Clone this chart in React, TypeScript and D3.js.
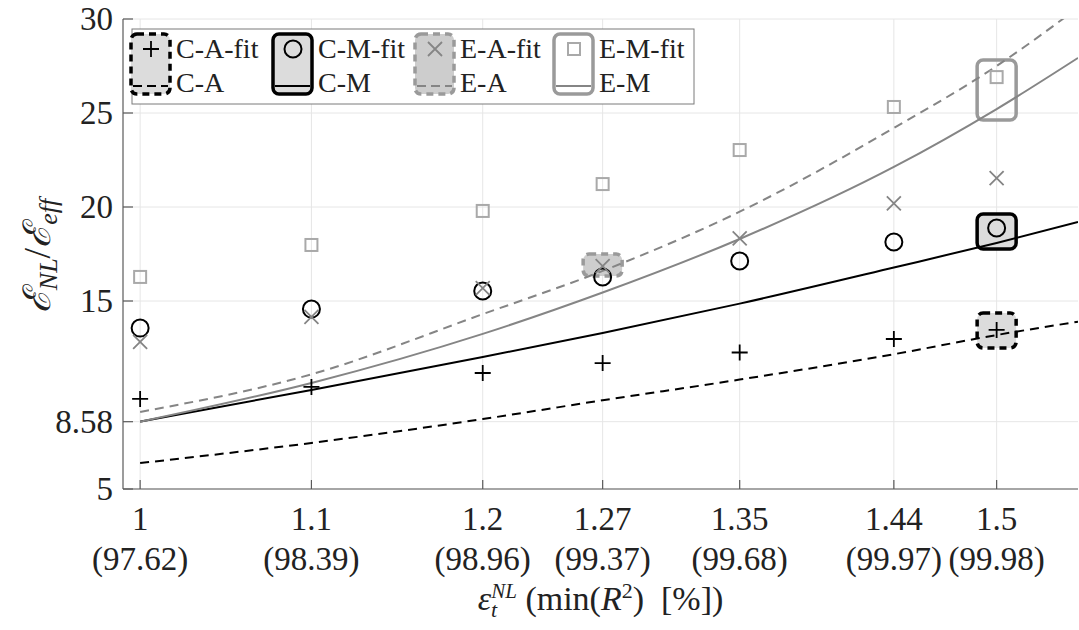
import React from "react";
import * as d3 from "d3";

// ---- data ----
const xCats = [1, 1.1, 1.2, 1.27, 1.35, 1.44, 1.5];
const r2Labels = ["97.62", "98.39", "98.96", "99.37", "99.68", "99.97", "99.98"];
const xTickText = ["1", "1.1", "1.2", "1.27", "1.35", "1.44", "1.5"];
const yTicks = [5, 8.58, 15, 20, 25, 30];
const yTickText = ["5", "8.58", "15", "20", "25", "30"];

const caFit = [9.79, 10.43, 11.17, 11.7, 12.26, 12.98, 13.46];
const cmFit = [13.56, 14.57, 15.53, 16.28, 17.13, 18.14, 18.88];
const eaFit = [12.82, 14.15, 15.69, 16.86, 18.33, 20.19, 21.54];
const emFit = [16.28, 17.98, 19.79, 21.22, 23.03, 25.32, 26.91];

const curveX = [1, 1.1, 1.2, 1.27, 1.35, 1.44, 1.5, 1.5475];
const caCurve = [6.38, 7.45, 8.72, 9.72, 10.82, 12.17, 13.19, 13.9];
const cmCurve = [8.58, 10.27, 12.02, 13.3, 14.86, 16.78, 18.09, 19.2];
const eaCurve = [9.1, 11.1, 14.3, 16.6, 19.75, 24.2, 27.5, 30.6];
const emCurve = [8.58, 10.64, 13.25, 15.45, 18.3, 22.13, 25.21, 27.93];

const boxSeries = ["C-A", "C-M", "E-A", "E-M"];
const boxX = [1.5, 1.5, 1.27, 1.5];
const boxLo = [12.5, 17.77, 16.33, 24.63];
const boxHi = [14.36, 19.63, 17.5, 27.82];

const legendFit = ["C-A-fit", "C-M-fit", "E-A-fit", "E-M-fit"];
const legendLine = ["C-A", "C-M", "E-A", "E-M"];

// ---- styles ----
const FONT = "'Liberation Serif', 'DejaVu Serif', serif";
const GRAY = "#858585";
const LIGHT = "#a9a9a9";

const boxStyle: Record<string, any> = {
  "C-A": { fill: "#dcdcdc", stroke: "#000", dash: "7,5" },
  "C-M": { fill: "#dcdcdc", stroke: "#000", dash: null },
  "E-A": { fill: "#cdcdcd", stroke: "#9a9a9a", dash: "7,5" },
  "E-M": { fill: "none", stroke: "#9a9a9a", dash: null },
};
const lineStyle: Record<string, any> = {
  "C-A": { stroke: "#000", dash: "9,6" },
  "C-M": { stroke: "#000", dash: null },
  "E-A": { stroke: GRAY, dash: "9,6" },
  "E-M": { stroke: GRAY, dash: null },
};

function Marker({ kind, cx, cy }: { kind: string; cx: number; cy: number }) {
  if (kind === "plus")
    return <path d={`M${cx - 8},${cy}H${cx + 8}M${cx},${cy - 8}V${cy + 8}`} stroke="#000" strokeWidth={1.8} fill="none" />;
  if (kind === "circle") return <circle cx={cx} cy={cy} r={8.5} stroke="#000" strokeWidth={2} fill="none" />;
  if (kind === "cross")
    return <path d={`M${cx - 7},${cy - 7}L${cx + 7},${cy + 7}M${cx - 7},${cy + 7}L${cx + 7},${cy - 7}`} stroke={GRAY} strokeWidth={1.8} fill="none" />;
  return <rect x={cx - 6} y={cy - 6} width={12} height={12} stroke={LIGHT} strokeWidth={2} fill="none" />;
}

export default function App() {
  const L = 123, R = 1078, T = 19, B = 489;
  const x = d3.scaleLinear().domain([0.99, 1.5475]).range([L, R]);
  const y = d3.scaleLinear().domain([5, 30]).range([B, T]);

  const line = d3
    .line<number>()
    .x((_, i) => x(curveX[i]))
    .y((v) => y(v))
    .curve(d3.curveMonotoneX);

  const curves: [string, number[]][] = [
    ["C-A", caCurve],
    ["C-M", cmCurve],
    ["E-A", eaCurve],
    ["E-M", emCurve],
  ];
  const fits: [string, number[]][] = [
    ["plus", caFit],
    ["circle", cmFit],
    ["cross", eaFit],
    ["square", emFit],
  ];
  const markerKinds = ["plus", "circle", "cross", "square"];
  const legendCols = [131, 273, 415, 554];

  return (
    <div style={{ position: "absolute", left: 0, top: 0 }}>
      <svg width={1079} height={630} style={{ display: "block", background: "#fff" }} fontFamily={FONT}>
        <defs>
          <clipPath id="plotclip">
            <rect x={L} y={T} width={R - L} height={B - T} />
          </clipPath>
        </defs>
        {/* grid */}
        {xCats.map((v, i) => (
          <line key={"gx" + i} x1={x(v)} x2={x(v)} y1={T} y2={B} stroke="#e6e6e6" strokeWidth={1} />
        ))}
        {yTicks.map((v, i) => (
          <line key={"gy" + i} x1={L} x2={R} y1={y(v)} y2={y(v)} stroke="#e6e6e6" strokeWidth={1} />
        ))}
        {/* highlight boxes */}
        {boxSeries.map((s, i) => {
          const st = boxStyle[s];
          const x0 = x(boxX[i]) - 19.5;
          return (
            <rect
              key={"box" + i}
              x={x0}
              y={y(boxHi[i])}
              width={39}
              height={y(boxLo[i]) - y(boxHi[i])}
              rx={6}
              fill={st.fill}
              stroke={st.stroke}
              strokeWidth={3.5}
              strokeDasharray={st.dash || undefined}
            />
          );
        })}
        {/* curves */}
        <g clipPath="url(#plotclip)">
          {curves.map(([s, vals]) => (
            <path
              key={s}
              d={line(vals) || ""}
              fill="none"
              stroke={lineStyle[s].stroke}
              strokeWidth={2}
              strokeDasharray={lineStyle[s].dash || undefined}
            />
          ))}
        </g>
        {/* markers */}
        {fits.map(([k, vals]) =>
          vals.map((v, i) => <Marker key={k + i} kind={k} cx={x(xCats[i])} cy={y(v)} />)
        )}
        {/* axes */}
        <line x1={L} x2={L} y1={T} y2={B} stroke="#5a5a5a" strokeWidth={1.2} />
        <line x1={L} x2={R} y1={B} y2={B} stroke="#5a5a5a" strokeWidth={1.2} />
        {yTicks.map((v, i) => (
          <g key={"yt" + i}>
            <line x1={L} x2={L + 10} y1={y(v)} y2={y(v)} stroke="#5a5a5a" strokeWidth={1.2} />
            <text x={113} y={y(v) + 11} textAnchor="end" fontSize={33} fill="#222">
              {yTickText[i]}
            </text>
          </g>
        ))}
        {xCats.map((v, i) => (
          <g key={"xt" + i}>
            <line x1={x(v)} x2={x(v)} y1={B} y2={B - 9} stroke="#5a5a5a" strokeWidth={1.2} />
            <text x={x(v)} y={530} textAnchor="middle" fontSize={33} fill="#222">
              {xTickText[i]}
            </text>
            <text x={x(v)} y={570} textAnchor="middle" fontSize={33} fill="#222">
              ({r2Labels[i]})
            </text>
          </g>
        ))}
        {/* x label */}
        <text x={(L + R) / 2} y={610} textAnchor="middle" fontSize={34} fill="#222">
          <tspan fontStyle="italic">ε</tspan>
          <tspan fontStyle="italic" fontSize={22} dy={7}>t</tspan>
          <tspan fontStyle="italic" fontSize={21} dx={-6} dy={-19}>NL</tspan>
          <tspan dy={12}>{"\u00a0(min("}</tspan>
          <tspan fontStyle="italic">R</tspan>
          <tspan fontSize={22} dy={-12}>2</tspan>
          <tspan dy={12}>{")\u00a0\u00a0[%])"}</tspan>
        </text>
        {/* y label */}
        <text transform="translate(50,256) rotate(-90)" textAnchor="middle" fontSize={38} fill="#222">
          <tspan fontStyle="italic">ℰ</tspan>
          <tspan fontStyle="italic" fontSize={26} dy={7}>NL</tspan>
          <tspan dy={-7}>/</tspan>
          <tspan fontStyle="italic">ℰ</tspan>
          <tspan fontStyle="italic" fontSize={26} dy={7}>eff</tspan>
        </text>
        {/* legend */}
        <rect x={132} y={29} width={562} height={75} fill="#fff" stroke="#7a7a7a" strokeWidth={1} />
        {legendLine.map((s, i) => {
          const cx = legendCols[i];
          const bs = boxStyle[s];
          const ls = lineStyle[s];
          return (
            <g key={"lg" + i}>
              <rect
                x={cx}
                y={34}
                width={39}
                height={60}
                rx={6}
                fill={bs.fill === "none" ? "#fff" : bs.fill}
                stroke={bs.stroke}
                strokeWidth={3.5}
                strokeDasharray={bs.dash || undefined}
              />
              <line
                x1={cx + 2}
                x2={cx + 37}
                y1={86}
                y2={86}
                stroke={ls.stroke}
                strokeWidth={2}
                strokeDasharray={ls.dash ? "9,5" : undefined}
              />
              <Marker kind={markerKinds[i]} cx={cx + 20} cy={49} />
              <text x={cx + 45} y={58} fontSize={28} fill="#222">
                {legendFit[i]}
              </text>
              <text x={cx + 45} y={92} fontSize={28} fill="#222">
                {s}
              </text>
            </g>
          );
        })}
      </svg>
    </div>
  );
}
